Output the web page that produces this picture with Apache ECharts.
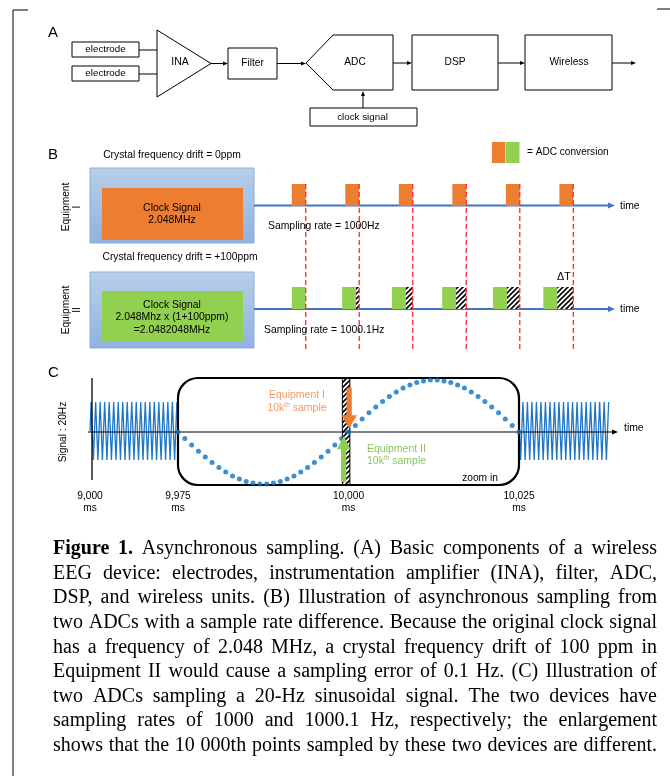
<!DOCTYPE html>
<html><head><meta charset="utf-8">
<script src="https://cdn.jsdelivr.net/npm/echarts@6/dist/echarts.min.js"></script>
<style>html,body{margin:0;padding:0;background:#fff}#c{width:670px;height:776px}</style>
</head><body><div id="c"></div>
<script>
// ================= DATA =================
// Panel B: sample instants (ms) and ADC conversion windows
const sampleTimesMs = [1, 2, 3, 4, 5, 6];
const equip1ConvEnd = [1, 2, 3, 4, 5, 6];
const equip2ConvEnd = [1.00, 1.94, 2.87, 3.81, 4.76, 5.70];
const convDurationMs = 0.26;

// Panel C: 20 Hz signal, compressed views (ms, amplitude)
const signalLeft = [[9000,0],[9012.5,1],[9037.5,-1],[9062.5,1],[9087.5,-1],[9112.5,1],[9137.5,-1],[9162.5,1],[9187.5,-1],[9212.5,1],[9237.5,-1],[9262.5,1],[9287.5,-1],[9312.5,1],[9337.5,-1],[9362.5,1],[9387.5,-1],[9412.5,1],[9437.5,-1],[9462.5,1],[9487.5,-1],[9512.5,1],[9537.5,-1],[9562.5,1],[9587.5,-1],[9612.5,1],[9637.5,-1],[9662.5,1],[9687.5,-1],[9712.5,1],[9737.5,-1],[9762.5,1],[9787.5,-1],[9812.5,1],[9837.5,-1],[9862.5,1],[9887.5,-1],[9912.5,1],[9937.5,-1],[9962.5,1],[9975,0]];
const signalRight = [[10025,0],[10037.5,-1],[10062.5,1],[10087.5,-1],[10112.5,1],[10137.5,-1],[10162.5,1],[10187.5,-1],[10212.5,1],[10237.5,-1],[10262.5,1],[10287.5,-1],[10312.5,1],[10337.5,-1],[10362.5,1],[10387.5,-1],[10412.5,1],[10437.5,-1],[10462.5,1],[10487.5,-1],[10512.5,1],[10537.5,-1],[10562.5,1],[10587.5,-1],[10612.5,1],[10637.5,-1],[10662.5,1],[10687.5,-1],[10712.5,1],[10737.5,-1],[10762.5,1],[10787.5,-1],[10812.5,1],[10837.5,-1],[10862.5,1],[10887.5,-1],[10912.5,1],[10937.5,-1],[10962.5,1],[10987.5,-1],[11012.5,1]];
// zoomed samples, one per ms from 9975 to 10025
const zoomStartMs = 9975;
const zoomSignal = [0,-0.125,-0.249,-0.368,-0.482,-0.588,-0.685,-0.771,-0.844,-0.905,-0.951,-0.982,-0.998,-0.998,-0.982,-0.951,-0.905,-0.844,-0.771,-0.685,-0.588,-0.482,-0.368,-0.249,-0.125,0,0.125,0.249,0.368,0.482,0.588,0.685,0.771,0.844,0.905,0.951,0.982,0.998,0.998,0.982,0.951,0.905,0.844,0.771,0.685,0.588,0.482,0.368,0.249,0.125,0];
const tickLeft = [9000, 9975];
const tickMid = [10000, 10025];
const deltaBand = [9999.1, 10000.2];
// arrows: [time, from, to]
const arrowEq1 = [10000.1, 0.85, 0.07];
const arrowEq2 = [9999.3, -0.96, -0.08];

const captionLines = [
  "Figure 1. Asynchronous sampling. (A) Basic components of a wireless",
  "EEG device: electrodes, instrumentation amplifier (INA), filter, ADC,",
  "DSP, and wireless units. (B) Illustration of asynchronous sampling from",
  "two ADCs with a sample rate difference. Because the original clock signal",
  "has a frequency of 2.048 MHz, a crystal frequency drift of 100 ppm in",
  "Equipment II would cause a sampling error of 0.1 Hz. (C) Illustration of",
  "two ADCs sampling a 20-Hz sinusoidal signal. The two devices have",
  "sampling rates of 1000 and 1000.1 Hz, respectively; the enlargement",
  "shows that the 10 000th points sampled by these two devices are different."
];

// ================= HELPERS =================
const FONT = '"Liberation Sans", Arial, Helvetica, sans-serif';
const SERIF = '"Liberation Serif", "Times New Roman", serif';
const ORANGE = '#ed7d31', GREEN = '#92d050', BLUE = '#4472c4';

function hatchCanvas(){
  const s = 5, c = document.createElement('canvas');
  c.width = s; c.height = s;
  const g = c.getContext('2d');
  g.fillStyle = '#fff'; g.fillRect(0,0,s,s);
  g.strokeStyle = '#000'; g.lineWidth = 1.6;
  g.beginPath();
  g.moveTo(-1, s+1); g.lineTo(s+1, -1);
  g.moveTo(-1, 1); g.lineTo(1, -1);
  g.moveTo(s-1, s+1); g.lineTo(s+1, s-1);
  g.stroke();
  return c;
}
const HATCH = {image: hatchCanvas(), repeat: 'repeat'};

function T(text, x, y, o){
  o = o || {};
  const st = {text, x:0, y:0, fill:o.color||'#000', fontSize:o.size||10, fontFamily:o.family||FONT,
    fontWeight:o.weight||'normal', textAlign:o.align||'center', textVerticalAlign:o.va||'middle'};
  if (o.lh) st.lineHeight = o.lh;
  if (o.rich) st.rich = o.rich;
  return {type:'text', x, y, rotation:o.rot||0, z:o.z||10, style:st};
}
function R(x,y,w,h,o){
  o = o || {};
  return {type:'rect', z:o.z||1, shape:{x,y,width:w,height:h,r:o.r||0},
    style:{fill:o.fill===undefined?'#fff':o.fill, stroke:o.stroke===undefined?'#000':o.stroke, lineWidth:o.lw||1}};
}
function L(pts, o){
  o = o || {};
  return {type:'polyline', z:o.z||2, shape:{points:pts}, style:{stroke:o.color||'#000', lineWidth:o.lw||1, fill:null, lineDash:o.dash||null}};
}
function A(x1,y1,x2,y2,o){
  o = o || {};
  const color=o.color||'#000', hl=o.hl||5, hw=o.hw||4;
  const dx=x2-x1, dy=y2-y1, len=Math.hypot(dx,dy), ux=dx/len, uy=dy/len;
  const bx=x2-ux*hl, by=y2-uy*hl, px=-uy, py=ux;
  return [
    {type:'polyline', z:o.z||2, shape:{points:[[x1,y1],[bx+ux*0.5,by+uy*0.5]]}, style:{stroke:color, lineWidth:o.lw||1, fill:null}},
    {type:'polygon', z:o.z||2, shape:{points:[[x2,y2],[bx+px*hw/2,by+py*hw/2],[bx-px*hw/2,by-py*hw/2]]}, style:{fill:color, stroke:null}}
  ];
}

const G = [];
// frame
G.push(L([[28,10],[13,10],[13,776]]));
G.push(L([[657,9],[670,9]]));

// ---------- Panel A ----------
G.push(T('A', 48, 33, {size:15, align:'left'}));
G.push(R(72,42,67,15)); G.push(T('electrode',105.5,49.5,{size:9.8}));
G.push(R(72,66,67,15)); G.push(T('electrode',105.5,73.5,{size:9.8}));
G.push(L([[139,50],[157,50]])); G.push(L([[139,74],[157,74]]));
G.push({type:'polygon', z:1, shape:{points:[[157,30],[211,63.5],[157,97]]}, style:{fill:'#fff', stroke:'#000', lineWidth:1}});
G.push(T('INA',180,62,{size:10.5}));
G.push(...A(211,63.5,228,63.5));
G.push(R(228,48,49,31)); G.push(T('Filter',252.5,63.5,{size:10.2}));
G.push(...A(277,63.5,306,63.5));
G.push({type:'polygon', z:1, shape:{points:[[306,63],[333,35],[393,35],[393,90],[333,90]]}, style:{fill:'#fff', stroke:'#000', lineWidth:1}});
G.push(T('ADC',355,62,{size:10.2}));
G.push(...A(393,63,412,63));
G.push(R(412,35,86,55)); G.push(T('DSP',455,62,{size:10.2}));
G.push(...A(498,63,525,63));
G.push(R(525,35,87,55)); G.push(T('Wireless',569,62,{size:10.2}));
G.push(...A(612,63,636,63));
G.push(R(310,108,107,18)); G.push(T('clock signal',362.5,117,{size:9.8}));
G.push(...A(363,108,363,91));

// ---------- Panel B ----------
const boxGrad = new echarts.graphic.LinearGradient(0,0,0,1,[{offset:0,color:'#b8cfea'},{offset:1,color:'#90b2df'}]);
G.push(T('B', 48, 155, {size:15, align:'left'}));
G.push(T('Crystal frequency drift = 0ppm', 172, 155, {size:10.3}));
G.push(R(492,142,13,21,{fill:ORANGE, stroke:null}));
G.push(R(505.5,142,14,21,{fill:GREEN, stroke:null}));
G.push(T('= ADC conversion', 527, 152.5, {size:10.1, align:'left'}));
G.push(R(90,168,164,75,{fill:boxGrad, stroke:'#8aaedc'}));
G.push(R(102,188,141,52,{fill:ORANGE, stroke:null, z:2}));
G.push(T('Clock Signal\n2.048MHz', 172, 214, {size:10.4, lh:12.5}));
G.push(T('Equipment\nI', 72, 207, {size:10.2, lh:11, rot:Math.PI/2}));
G.push(...A(254,205.5,615,205.5,{color:BLUE, lw:2, hl:7, hw:6, z:1}));
G.push(T('time', 620, 206, {size:10.4, align:'left'}));
G.push(T('Sampling rate = 1000Hz', 268, 226, {size:10.4, align:'left'}));

G.push(T('Crystal frequency drift = +100ppm', 180, 257, {size:10.3}));
G.push(R(90,272,164,76,{fill:boxGrad, stroke:'#8aaedc'}));
G.push(R(102,291,141,51,{fill:GREEN, stroke:null, z:2}));
G.push(T('Clock Signal\n2.048Mhz x (1+100ppm)\n=2.0482048MHz', 172, 317.5, {size:10.4, lh:12.5}));
G.push(T('Equipment\nII', 72, 310, {size:10.2, lh:11, rot:Math.PI/2}));
G.push(...A(254,309,615,309,{color:BLUE, lw:2, hl:7, hw:6, z:1}));
G.push(T('time', 620, 309, {size:10.4, align:'left'}));
G.push(T('Sampling rate = 1000.1Hz', 264, 330, {size:10.4, align:'left'}));
G.push(T('ΔT', 564, 277, {size:10.8}));

// ---------- Panel C ----------
G.push(T('C', 48, 373, {size:15, align:'left'}));
G.push(T('Signal : 20Hz', 63, 432, {size:10.2, rot:Math.PI/2}));
G.push(L([[92,378],[92,480]], {lw:1.3, z:5}));
G.push(...A(88,432,618,432,{lw:1, hl:6, hw:5, z:5}));
G.push(T('time', 624, 428, {size:10.4, align:'left'}));
G.push({type:'rect', z:6, shape:{x:178,y:378,width:341,height:107,r:20}, style:{fill:null, stroke:'#000', lineWidth:2.2}});
G.push(T('Equipment I', 297, 395, {size:10.5, color:'#f29a5e'}));
G.push(T('10k{sup|th} sample', 297, 408, {size:10.5, color:'#f29a5e', rich:{sup:{fontSize:6.5, padding:[0,0,6,0], fill:'#f29a5e'}}}));
G.push(T('Equipment II', 367, 449, {size:10.5, color:'#8cc462', align:'left'}));
G.push(T('10k{sup|th} sample', 367, 461, {size:10.5, color:'#8cc462', align:'left', rich:{sup:{fontSize:6.5, padding:[0,0,6,0], fill:'#8cc462'}}}));
G.push(T('zoom in', 480, 478, {size:10.2}));

// ---------- Caption (justified) ----------
(function(){
  const ctx = document.createElement('canvas').getContext('2d');
  const left = 53, right = 657, W = right-left, top = 549, step = 24.6;
  function wW(w, bold, size){ ctx.font = (bold?'bold ':'') + size + 'px ' + SERIF; return ctx.measureText(w).width; }
  // fit font so the longest line sets normally
  const ref = captionLines[3];
  let nat = wW(ref, false, 100) / 100;
  let size = Math.max(16.5, Math.min(20, (W-1) / nat));
  captionLines.forEach((line, li) => {
    const words = line.split(' ');
    const bolds = words.map((w,i) => li === 0 && i < 2);
    const ws = words.map((w,i) => wW(w, bolds[i], size));
    const sum = ws.reduce((a,b)=>a+b,0);
    const gap = (W - sum) / (words.length - 1);
    let x = left;
    words.forEach((w,i) => {
      G.push({type:'text', x:x, y: top + li*step, z:10, style:{text:w, x:0, y:0, fill:'#000', fontSize:size,
        fontFamily:SERIF, fontWeight: bolds[i]?'bold':'normal', textAlign:'left', textVerticalAlign:'middle'}});
      x += ws[i] + gap;
    });
  });
})();

// ================= CHART =================
const hiddenAxis = (min,max,idx) => ({type:'value', gridIndex:idx, min, max, show:false});
const labelAxis = (min,max,idx,ticks,margin) => ({
  type:'value', gridIndex:idx, min, max,
  axisLine:{show:false}, axisTick:{show:false}, splitLine:{show:false},
  axisLabel:{show:ticks.length>0, customValues:ticks, showMinLabel:true, showMaxLabel:true, hideOverlap:false,
    margin, fontSize:10.2, lineHeight:11.5, color:'#000', fontFamily:FONT,
    formatter: v => v.toLocaleString('en-US') + '\nms'}
});

const gridBase = {containLabel:false, outerBoundsMode:'none', show:false};
const option = {
  animation:false,
  backgroundColor:'#fff',
  grid:[
    Object.assign({left:252.2, top:184, width:374.6, height:22}, gridBase),
    Object.assign({left:252.2, top:287, width:374.6, height:22}, gridBase),
    Object.assign({left:90, top:402, width:88, height:58}, gridBase),
    Object.assign({left:178, top:380, width:341, height:104}, gridBase),
    Object.assign({left:519.5, top:402, width:93, height:58}, gridBase)
  ],
  xAxis:[
    hiddenAxis(0,7,0), hiddenAxis(0,7,1),
    labelAxis(9000,9975,2,tickLeft,30.5),
    labelAxis(9975,10025,3,tickMid,6.5),
    labelAxis(10025,11055,4,[],0)
  ],
  yAxis:[hiddenAxis(0,1,0), hiddenAxis(0,1,1), hiddenAxis(-1,1,2), hiddenAxis(-1,1,3), hiddenAxis(-1,1,4)],
  graphic:{elements:G},
  series:[
    { // Equipment I conversions
      type:'custom', xAxisIndex:0, yAxisIndex:0, z:3,
      data: equip1ConvEnd.map(e => [e - convDurationMs, e]),
      encode:{x:[0,1]},
      renderItem(p, api){
        const a = api.coord([api.value(0), 1]), b = api.coord([api.value(1), 0]);
        return {type:'rect', shape:{x:a[0], y:a[1], width:b[0]-a[0], height:b[1]-a[1]}, style:{fill:ORANGE}};
      }
    },
    { // Equipment II conversions + delay
      type:'custom', xAxisIndex:1, yAxisIndex:1, z:3,
      data: equip2ConvEnd.map((e,i) => [e - convDurationMs, e, sampleTimesMs[i]]),
      encode:{x:[0,1,2]},
      renderItem(p, api){
        const a = api.coord([api.value(0), 1]), b = api.coord([api.value(1), 0]), c = api.coord([api.value(2), 0]);
        const ch = [{type:'rect', shape:{x:a[0], y:a[1], width:b[0]-a[0], height:b[1]-a[1]}, style:{fill:GREEN}}];
        if (c[0] - b[0] > 0.5) ch.push({type:'rect', shape:{x:b[0], y:a[1], width:c[0]-b[0], height:b[1]-a[1]}, style:{fill:HATCH}});
        return {type:'group', children:ch};
      }
    },
    { // sampling instants (red dashed)
      type:'custom', xAxisIndex:0, yAxisIndex:0, z:5,
      data: sampleTimesMs.map(t => [t]),
      encode:{x:0},
      renderItem(p, api){
        const x = api.coord([api.value(0), 0])[0];
        return {type:'line', shape:{x1:x, y1:184, x2:x, y2:352}, style:{stroke:'#ff2a2a', lineWidth:1.3, lineDash:[5,3]}};
      }
    },
    { type:'line', xAxisIndex:2, yAxisIndex:2, data:signalLeft, showSymbol:false, z:2,
      lineStyle:{color:'#1d76c8', width:1.3} },
    { type:'line', xAxisIndex:4, yAxisIndex:4, data:signalRight, showSymbol:false, z:2,
      lineStyle:{color:'#1d76c8', width:1.3} },
    { // delta band
      type:'custom', xAxisIndex:3, yAxisIndex:3, z:3,
      data:[deltaBand], encode:{x:[0,1]},
      renderItem(p, api){
        const cs = p.coordSys;
        const a = api.coord([api.value(0), 0])[0], b = api.coord([api.value(1), 0])[0];
        return {type:'rect', shape:{x:a, y:cs.y-2, width:b-a, height:cs.height+3}, style:{fill:HATCH, stroke:'#000', lineWidth:1}};
      }
    },
    { type:'scatter', xAxisIndex:3, yAxisIndex:3, z:6, symbolSize:5,
      itemStyle:{color:'#0a72c4'},
      data: zoomSignal.map((v,i) => [zoomStartMs + i, v]) },
    { // arrows
      type:'custom', xAxisIndex:3, yAxisIndex:3, z:7,
      data:[arrowEq1.concat([0]), arrowEq2.concat([1])], encode:{x:0, y:[1,2]},
      renderItem(p, api){
        const t = api.value(0), s = api.coord([t, api.value(1)]), e = api.coord([t, api.value(2)]);
        const x = s[0], dir = e[1] > s[1] ? 1 : -1, hl = 13, sw = 2.6;
        const hw = api.value(3) === 0 ? 7.8 : 6.8;
        const by = e[1] - dir*hl;
        const pts = [[x-sw,s[1]],[x+sw,s[1]],[x+sw,by],[x+hw,by],[x,e[1]],[x-hw,by],[x-sw,by]];
        return {type:'polygon', shape:{points:pts}, style:{fill: api.value(3) === 0 ? ORANGE : '#8fcf4f'}};
      }
    }
  ]
};
const chart = echarts.init(document.getElementById('c'), null, {renderer:'canvas'});
chart.setOption(option);
</script></body></html>
